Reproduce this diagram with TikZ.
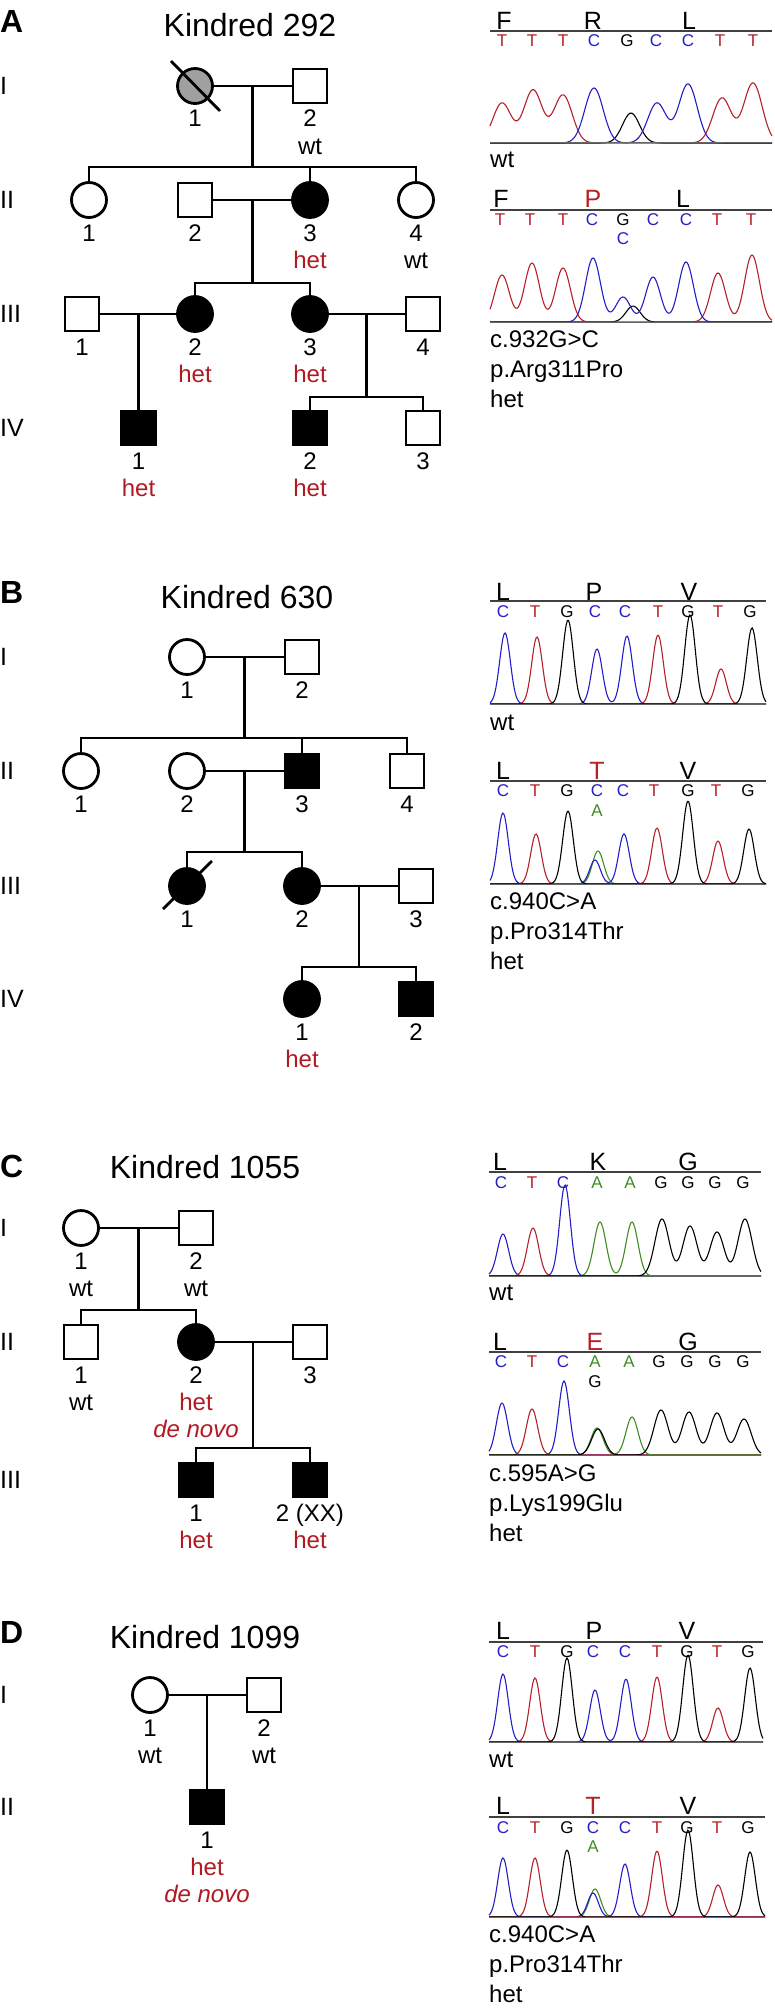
\documentclass[tikz,border=0pt]{standalone}
\usepackage{fontspec}
\setmainfont{Liberation Sans}
\usepackage{tikz}
\usetikzlibrary{calc}

\definecolor{hetred}{RGB}{178,26,34}
\definecolor{tred}{RGB}{182,32,40}
\definecolor{tblue}{RGB}{36,30,200}
\definecolor{tgreen}{RGB}{62,140,34}
\definecolor{pedgrey}{RGB}{160,160,160}

\newcommand{\hetlbl}{\textcolor{hetred}{het}}
\newcommand{\dnvlbl}{\textcolor{hetred}{\itshape de novo}}

\tikzset{
  male/.style={draw, rectangle, minimum size=34pt, inner sep=0pt, line width=2.8pt},
  female/.style={draw, circle, minimum size=35pt, inner sep=0pt, line width=2.8pt},
  aff/.style={fill=black},
  unk/.style={fill=pedgrey},
  kin/.style={line width=2.8pt},
  num/.style={anchor=base, inner sep=0pt, font=\fontsize{24}{27}\selectfont},
  gen/.style={anchor=west, inner sep=0pt, font=\fontsize{25}{25}\selectfont},
  kindred/.style={anchor=base, inner sep=0pt, font=\fontsize{32}{32}\selectfont},
  panel/.style={anchor=base west, inner sep=0pt, font=\fontsize{32}{32}\selectfont\bfseries},
  aa/.style={anchor=base, inner sep=0pt, font=\fontsize{25}{25}\selectfont},
  nt/.style={inner sep=0pt, font=\fontsize{17}{17}\selectfont},
  seqline/.style={line width=1.4pt, black!75},
  zero/.style={line width=1pt, black!60},
  trace/.style={line width=1.1pt},
  note/.style={anchor=base west, inner sep=0pt, font=\fontsize{24}{30}\selectfont},
  declare function={pk(\u,\c,\h,\w)=\h*exp(0-((\u-\c)/\w)^2);}
}

\begin{document}
\begin{tikzpicture}[x=1pt, y=-1pt]
\useasboundingbox (0,0) rectangle (774,2015);

% ---------- A: kindred 292 ----------
\node[panel] (pa) at (0,33) {A};
\node[kindred] (ka) at (250,37) {Kindred 292};
\foreach \g/\y in {I/86,II/200,III/314,IV/428}
  \node[gen] (a-gen-\g) at (0,\y) {\g};

\node[female, unk] (a11) at (195,86) {};
\node[male] (a12) at (310,86) {};
\node[female] (a21) at (89,200) {};
\node[male] (a22) at (195,200) {};
\node[female, aff] (a23) at (310,200) {};
\node[female] (a24) at (416,200) {};
\node[male] (a31) at (82,314) {};
\node[female, aff] (a32) at (195,314) {};
\node[female, aff] (a33) at (310,314) {};
\node[male] (a34) at (423,314) {};
\node[male, aff] (a41) at (138.5,428) {};
\node[male, aff] (a42) at (310,428) {};
\node[male] (a43) at (423,428) {};
\draw[kin] ($(a11)+(-24,-25)$) -- ($(a11)+(25,25)$);

% numbers, then genotypes
\foreach \n/\t in {a11/1, a12/2, a21/1, a22/2, a23/3, a24/4, a31/1, a32/2, a33/3, a34/4, a41/1, a42/2, a43/3}
  \node[num] (\n-l) at ($(\n)+(0,41)$) {\t};
\foreach \n/\t in {a12/wt, a23/\hetlbl, a24/wt, a32/\hetlbl, a33/\hetlbl, a41/\hetlbl, a42/\hetlbl}
  \node[num] (\n-g) at ($(\n)+(0,68)$) {\t};

\coordinate (a-m1) at (252.5,86);
\coordinate (a-s2) at (252.5,167);
\coordinate (a-m2) at (252.5,200);
\coordinate (a-s3) at (252.5,283);
\coordinate (a-m3) at (138.5,314);
\coordinate (a-m4) at (366.5,314);
\coordinate (a-s4) at (366.5,397);
\draw[kin] (a11) -- (a12);
\draw[kin] (a-m1) -- (a-s2);
\draw[kin] (a21) |- (a-s2) -| (a24);
\draw[kin] (a23) -- (a23 |- a-s2);
\draw[kin] (a22) -- (a23);
\draw[kin] (a-m2) -- (a-s3);
\draw[kin] (a32) |- (a-s3) -| (a33);
\draw[kin] (a31) -- (a32);
\draw[kin] (a-m3) -- (a41);
\draw[kin] (a33) -- (a34);
\draw[kin] (a-m4) -- (a-s4);
\draw[kin] (a42) |- (a-s4) -| (a43);

% wild type trace
\draw[seqline] (490,31) -- (772,31);
\foreach \l/\x [count=\i] in {F/504,R/593,L/689}
  \node[aa] (aw-aa\i) at (\x,30) {\l};
\foreach \b/\c/\x [count=\i] in {T/tred/502,T/tred/532,T/tred/563,C/tblue/594,G/black/627,C/tblue/656,C/tblue/688,T/tred/720,T/tred/753}
  \node[nt, text=\c] (aw-nt\i) at (\x,41) {\b};
\draw[trace, black] plot[domain=490:772, samples=140] (\x,{143-pk(\x,631,30,12)});
\draw[trace, tred] plot[domain=490:772, samples=220] (\x,{143-pk(\x,502,40,13)-pk(\x,533,53,13)-pk(\x,563,48,13)-pk(\x,722,45,13)-pk(\x,753,60,13)});
\draw[trace, tblue] plot[domain=490:772, samples=220] (\x,{143-pk(\x,594,55,13)-pk(\x,657,40,13)-pk(\x,688,59,13)});
\draw[zero] (490,143) -- (772,143);
\node[note] (aw-txt) at (490,167) {wt};

% mutant trace
\draw[seqline] (490,210) -- (772,210);
\foreach \l/\x/\c [count=\i] in {F/501/black,P/593/tred,L/683/black}
  \node[aa, text=\c] (am-aa\i) at (\x,207) {\l};
\foreach \b/\c/\x [count=\i] in {T/tred/500,T/tred/530,T/tred/563,C/tblue/592,G/black/623,C/tblue/653,C/tblue/686,T/tred/717,T/tred/751}
  \node[nt, text=\c] (am-nt\i) at (\x,220) {\b};
\node[nt, text=tblue] (am-alt) at (623,239) {C};
\draw[trace, black] plot[domain=490:772, samples=140] (\x,{322-pk(\x,633,16,10)});
\draw[trace, tred] plot[domain=490:772, samples=220] (\x,{322-pk(\x,502,47,10.5)-pk(\x,532,59,10.5)-pk(\x,563,54,10.5)-pk(\x,718,49,10.5)-pk(\x,752,67,10.5)});
\draw[trace, tblue] plot[domain=490:772, samples=220] (\x,{322-pk(\x,593,64,10.5)-pk(\x,623,25,10.5)-pk(\x,653,45,10.5)-pk(\x,686,60,10.5)});
\draw[zero] (490,322) -- (772,322);
\foreach \t [count=\i] in {c.932G>C, p.Arg311Pro, het}
  \node[note] (am-txt\i) at (490,{347+30*(\i-1)}) {\t};

% ---------- B: kindred 630 ----------
\node[panel] (pb) at (0,603) {B};
\node[kindred] (kb) at (247,608) {Kindred 630};
\foreach \g/\y in {I/657,II/771,III/886,IV/999}
  \node[gen] (b-gen-\g) at (0,\y) {\g};

\node[female] (b11) at (187,657) {};
\node[male] (b12) at (302,657) {};
\node[female] (b21) at (81,771) {};
\node[female] (b22) at (187,771) {};
\node[male, aff] (b23) at (302,771) {};
\node[male] (b24) at (407,771) {};
\node[female, aff] (b31) at (187,886) {};
\node[female, aff] (b32) at (302,886) {};
\node[male] (b33) at (416,886) {};
\node[female, aff] (b41) at (302,999) {};
\node[male, aff] (b42) at (416,999) {};
\draw[kin] ($(b31)+(-24,23)$) -- ($(b31)+(25,-25)$);

\foreach \n/\t in {b11/1, b12/2, b21/1, b22/2, b23/3, b24/4, b31/1, b32/2, b33/3, b41/1, b42/2}
  \node[num] (\n-l) at ($(\n)+(0,41)$) {\t};
\node[num] (b41-g) at ($(b41)+(0,68)$) {\hetlbl};

\coordinate (b-m1) at (244.5,657);
\coordinate (b-s2) at (244.5,738);
\coordinate (b-m2) at (244.5,771);
\coordinate (b-s3) at (244.5,852);
\coordinate (b-m3) at (359,886);
\coordinate (b-s4) at (359,967);
\draw[kin] (b11) -- (b12);
\draw[kin] (b-m1) -- (b-s2);
\draw[kin] (b21) |- (b-s2) -| (b24);
\draw[kin] (b23) -- (b23 |- b-s2);
\draw[kin] (b22) -- (b23);
\draw[kin] (b-m2) -- (b-s3);
\draw[kin] (b31) |- (b-s3) -| (b32);
\draw[kin] (b32) -- (b33);
\draw[kin] (b-m3) -- (b-s4);
\draw[kin] (b41) |- (b-s4) -| (b42);

% wild type trace
\draw[seqline] (490,601) -- (766,601);
\foreach \l/\x [count=\i] in {L/503,P/594,V/689}
  \node[aa] (bw-aa\i) at (\x,600) {\l};
\foreach \b/\c/\x [count=\i] in {C/tblue/503,T/tred/535,G/black/567,C/tblue/595,C/tblue/625,T/tred/658,G/black/688,T/tred/718,G/black/750}
  \node[nt, text=\c] (bw-nt\i) at (\x,612) {\b};
\draw[trace, tblue] plot[domain=490:766, samples=240] (\x,{704-pk(\x,505,71,7.5)-pk(\x,597,55,7.5)-pk(\x,627,68,7.5)});
\draw[trace, tred] plot[domain=490:766, samples=240] (\x,{704-pk(\x,537,67,7.5)-pk(\x,658,69,7.5)-pk(\x,721,35,7.5)});
\draw[trace, black] plot[domain=490:766, samples=240] (\x,{704-pk(\x,568,84,7.5)-pk(\x,690,89,7.5)-pk(\x,752,76,7.5)});
\draw[zero] (490,704) -- (766,704);
\node[note] (bw-txt) at (490,730) {wt};

% mutant trace
\draw[seqline] (490,781) -- (766,781);
\foreach \l/\x/\c [count=\i] in {L/503/black,T/597/tred,V/688/black}
  \node[aa, text=\c] (bm-aa\i) at (\x,779) {\l};
\foreach \b/\c/\x [count=\i] in {C/tblue/503,T/tred/535,G/black/567,C/tblue/597,C/tblue/623,T/tred/654,G/black/688,T/tred/716,G/black/748}
  \node[nt, text=\c] (bm-nt\i) at (\x,791) {\b};
\node[nt, text=tgreen] (bm-alt) at (597,811) {A};
\draw[trace, tgreen] plot[domain=490:766, samples=240] (\x,{884-pk(\x,598,33,8)});
\draw[trace, tblue] plot[domain=490:766, samples=240] (\x,{884-pk(\x,503,71,7.5)-pk(\x,595,24,7.5)-pk(\x,624,50,7.5)});
\draw[trace, tred] plot[domain=490:766, samples=240] (\x,{884-pk(\x,536,50,7.5)-pk(\x,657,56,7.5)-pk(\x,718,43,7.5)});
\draw[trace, black] plot[domain=490:766, samples=240] (\x,{884-pk(\x,568,73,7.5)-pk(\x,688,83,7.5)-pk(\x,749,55,7.5)});
\draw[zero] (490,884) -- (766,884);
\foreach \t [count=\i] in {c.940C>A, p.Pro314Thr, het}
  \node[note] (bm-txt\i) at (490,{909+30*(\i-1)}) {\t};

% ---------- C: kindred 1055 ----------
\node[panel] (pc) at (0,1177) {C};
\node[kindred] (kc) at (205,1178) {Kindred 1055};
\foreach \g/\y in {I/1228,II/1342,III/1480}
  \node[gen] (c-gen-\g) at (0,\y) {\g};

\node[female] (c11) at (81,1228) {};
\node[male] (c12) at (196,1228) {};
\node[male] (c21) at (81,1342) {};
\node[female, aff] (c22) at (196,1342) {};
\node[male] (c23) at (310,1342) {};
\node[male, aff] (c31) at (196,1480) {};
\node[male, aff] (c32) at (310,1480) {};

\foreach \n/\t in {c11/1, c12/2, c21/1, c22/2, c23/3, c31/1, c32/2 (XX)}
  \node[num] (\n-l) at ($(\n)+(0,41)$) {\t};
\foreach \n/\t in {c11/wt, c12/wt, c21/wt, c22/\hetlbl, c31/\hetlbl, c32/\hetlbl}
  \node[num] (\n-g) at ($(\n)+(0,68)$) {\t};
\node[num] (c22-d) at ($(c22)+(0,95)$) {\dnvlbl};

\coordinate (c-m1) at (138.5,1228);
\coordinate (c-s2) at (138.5,1310);
\coordinate (c-m2) at (253,1342);
\coordinate (c-s3) at (253,1448);
\draw[kin] (c11) -- (c12);
\draw[kin] (c-m1) -- (c-s2);
\draw[kin] (c21) |- (c-s2) -| (c22);
\draw[kin] (c22) -- (c23);
\draw[kin] (c-m2) -- (c-s3);
\draw[kin] (c31) |- (c-s3) -| (c32);

% wild type trace
\draw[seqline] (489,1172) -- (761,1172);
\foreach \l/\x [count=\i] in {L/500,K/598,G/688}
  \node[aa] (cw-aa\i) at (\x,1170) {\l};
\foreach \b/\c/\x [count=\i] in {C/tblue/501,T/tred/532,C/tblue/563,A/tgreen/597,A/tgreen/630,G/black/661,G/black/688,G/black/715,G/black/743}
  \node[nt, text=\c] (cw-nt\i) at (\x,1183) {\b};
\draw[trace, tblue] plot[domain=489:761, samples=240] (\x,{1276-pk(\x,503,42,8)-pk(\x,565,91,7.5)});
\draw[trace, tred] plot[domain=489:761, samples=240] (\x,{1276-pk(\x,533,48,8)});
\draw[trace, tgreen] plot[domain=489:761, samples=240] (\x,{1276-pk(\x,600,54,8.5)-pk(\x,632,54,8.5)});
\draw[trace, black] plot[domain=489:761, samples=240] (\x,{1276-pk(\x,662,57,10)-pk(\x,690,50,10)-pk(\x,717,44,10)-pk(\x,745,57,10)});
\draw[zero] (489,1276) -- (761,1276);
\node[note] (cw-txt) at (489,1300) {wt};

% mutant trace
\draw[seqline] (489,1352) -- (761,1352);
\foreach \l/\x/\c [count=\i] in {L/500/black,E/595/tred,G/688/black}
  \node[aa, text=\c] (cm-aa\i) at (\x,1350) {\l};
\foreach \b/\c/\x [count=\i] in {C/tblue/501,T/tred/532,C/tblue/563,A/tgreen/595,A/tgreen/629,G/black/659,G/black/687,G/black/715,G/black/743}
  \node[nt, text=\c] (cm-nt\i) at (\x,1362) {\b};
\node[nt, text=black] (cm-alt) at (595,1382) {G};
\draw[trace, tblue] plot[domain=489:761, samples=240] (\x,{1455-pk(\x,502,52,8)-pk(\x,564,74,7.5)});
\draw[trace, tred] plot[domain=489:761, samples=240] (\x,{1455-pk(\x,532,46,8)});
\draw[trace, tgreen] plot[domain=489:761, samples=240] (\x,{1455-pk(\x,597,27,8.5)-pk(\x,632,38,8.5)});
\draw[trace, black] plot[domain=489:761, samples=240] (\x,{1455-pk(\x,598,26,9)-pk(\x,661,45,10)-pk(\x,689,43,10)-pk(\x,717,42,10)-pk(\x,744,36,10)});
\draw[zero] (489,1455) -- (761,1455);
\foreach \t [count=\i] in {c.595A>G, p.Lys199Glu, het}
  \node[note] (cm-txt\i) at (489,{1481+30*(\i-1)}) {\t};

% ---------- D: kindred 1099 ----------
\node[panel] (pd) at (0,1643) {D};
\node[kindred] (kd) at (205,1648) {Kindred 1099};
\foreach \g/\y in {I/1695,II/1807}
  \node[gen] (d-gen-\g) at (0,\y) {\g};

\node[female] (d11) at (150,1695) {};
\node[male] (d12) at (264,1695) {};
\node[male, aff] (d21) at (207,1807) {};

\foreach \n/\t in {d11/1, d12/2, d21/1}
  \node[num] (\n-l) at ($(\n)+(0,41)$) {\t};
\foreach \n/\t in {d11/wt, d12/wt, d21/\hetlbl}
  \node[num] (\n-g) at ($(\n)+(0,68)$) {\t};
\node[num] (d21-d) at ($(d21)+(0,95)$) {\dnvlbl};

\coordinate (d-m1) at (207,1695);
\draw[kin] (d11) -- (d12);
\draw[kin] (d-m1) -- (d21);

% wild type trace
\draw[seqline] (489,1642) -- (763,1642);
\foreach \l/\x [count=\i] in {L/503,P/594,V/687}
  \node[aa] (dw-aa\i) at (\x,1639) {\l};
\foreach \b/\c/\x [count=\i] in {C/tblue/503,T/tred/535,G/black/567,C/tblue/593,C/tblue/625,T/tred/657,G/black/687,T/tred/717,G/black/748}
  \node[nt, text=\c] (dw-nt\i) at (\x,1652) {\b};
\draw[trace, tblue] plot[domain=489:763, samples=240] (\x,{1742-pk(\x,503,68,7.5)-pk(\x,595,52,7.5)-pk(\x,626,63,7.5)});
\draw[trace, tred] plot[domain=489:763, samples=240] (\x,{1742-pk(\x,535,64,7.5)-pk(\x,657,65,7.5)-pk(\x,718,34,7.5)});
\draw[trace, black] plot[domain=489:763, samples=240] (\x,{1742-pk(\x,567,84,7.5)-pk(\x,688,87,7.5)-pk(\x,750,74,7.5)});
\draw[zero] (489,1742) -- (763,1742);
\node[note] (dw-txt) at (489,1767) {wt};

% mutant trace
\draw[seqline] (489,1817) -- (765,1817);
\foreach \l/\x/\c [count=\i] in {L/503/black,T/593/tred,V/688/black}
  \node[aa, text=\c] (dm-aa\i) at (\x,1814) {\l};
\foreach \b/\c/\x [count=\i] in {C/tblue/503,T/tred/535,G/black/567,C/tblue/593,C/tblue/625,T/tred/657,G/black/687,T/tred/717,G/black/748}
  \node[nt, text=\c] (dm-nt\i) at (\x,1828) {\b};
\node[nt, text=tgreen] (dm-alt) at (593,1847) {A};
\draw[trace, tgreen] plot[domain=489:765, samples=240] (\x,{1917-pk(\x,595,28,8)});
\draw[trace, tblue] plot[domain=489:765, samples=240] (\x,{1917-pk(\x,503,59,7.5)-pk(\x,593,24,7.5)-pk(\x,625,53,7.5)});
\draw[trace, tred] plot[domain=489:765, samples=240] (\x,{1917-pk(\x,535,59,7.5)-pk(\x,657,66,7.5)-pk(\x,718,32,7.5)});
\draw[trace, black] plot[domain=489:765, samples=240] (\x,{1917-pk(\x,567,67,7.5)-pk(\x,688,87,7.5)-pk(\x,750,65,7.5)});
\draw[zero] (489,1917) -- (765,1917);
\foreach \t [count=\i] in {c.940C>A, p.Pro314Thr, het}
  \node[note] (dm-txt\i) at (489,{1942+30*(\i-1)}) {\t};

\end{tikzpicture}
\end{document}
